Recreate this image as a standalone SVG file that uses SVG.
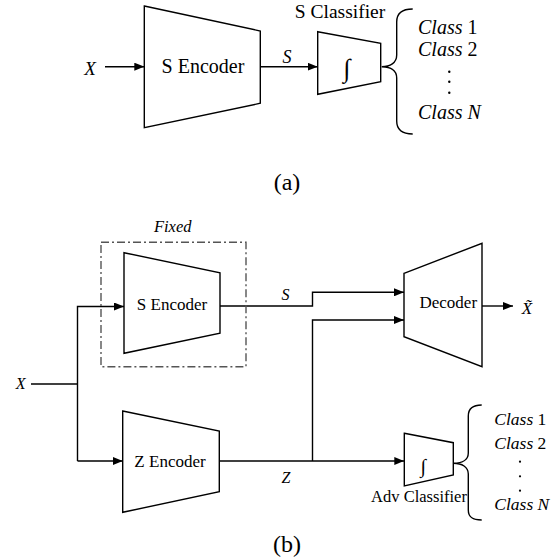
<svg xmlns="http://www.w3.org/2000/svg" width="551" height="560" viewBox="0 0 551 560">
<defs>
<marker id="ah" viewBox="0 0 10 8" refX="10" refY="4" markerWidth="10" markerHeight="8" markerUnits="userSpaceOnUse" orient="auto">
<path d="M0,0 L10,4 L0,8 Z" fill="#000"/>
</marker>
</defs>
<style>
.shape{fill:#fff;stroke:#000;stroke-width:1.4;stroke-linejoin:miter}
.line{fill:none;stroke:#000;stroke-width:1.4}
.arr{fill:none;stroke:#000;stroke-width:1.4;marker-end:url(#ah)}
.brace{fill:none;stroke:#000;stroke-width:1.4}
.box{fill:none;stroke:#555;stroke-width:1.4;stroke-dasharray:8 3 2 3}
.dot{fill:#000}
text{font-family:"Liberation Serif","DejaVu Serif",serif;fill:#000}
.it{font-style:italic}
.mid{text-anchor:middle}
</style>
<rect width="551" height="560" fill="#fff"/>

<g id="connectors">
<line class="arr" x1="105" y1="66.7" x2="144.3" y2="66.7"/>
<line class="arr" x1="260.3" y1="66.7" x2="317.7" y2="66.7"/>
<polyline class="line" points="31,384 77.5,384"/>
<polyline class="arr" points="77.5,461 77.5,306.5 124,306.5"/>
<polyline class="arr" points="77.5,461 122.7,461"/>
<polyline class="arr" points="220,306 312.5,306 312.5,292.3 404,292.3"/>
<polyline class="arr" points="312.5,461 312.5,320 404,320"/>
<line class="arr" x1="219.3" y1="461" x2="404.3" y2="461"/>
<line class="arr" x1="482" y1="306" x2="513" y2="306"/>
</g>

<g id="label-a">
<text class="it mid" x="90" y="75" font-size="19">X</text>
<text class="it mid" x="287" y="63" font-size="18">S</text>
</g>

<g id="s-encoder-a">
<polygon class="shape" points="144.3,6 260.3,31 260.3,103.3 144.3,127.7"/>
<text class="mid" x="203" y="73" font-size="20">S Encoder</text>
</g>

<g id="s-classifier">
<polygon class="shape" points="317.7,31.7 380.7,43.3 380.7,81.7 317.7,94.3"/>
<text class="mid" x="347" y="76.5" font-size="26">∫</text>
<text class="mid" x="340" y="18" font-size="19.5">S Classifier</text>
</g>

<g id="classes-a">
<path class="brace" d="M412.7,9 C402,9 396.7,13 396.7,22 L396.7,55 C396.7,63 390,66.7 381.7,66.7 C390,66.7 396.7,70 396.7,78 L396.7,121 C396.7,130 402,134 412.7,134"/>
<text x="418" y="33.5" font-size="20"><tspan class="it">Class</tspan> 1</text>
<text x="418" y="56" font-size="20"><tspan class="it">Class</tspan> 2</text>
<circle class="dot" cx="449.3" cy="71.7" r="1.2"/>
<circle class="dot" cx="449.3" cy="81.7" r="1.2"/>
<circle class="dot" cx="449.3" cy="92.7" r="1.2"/>
<text x="418" y="118.5" font-size="20"><tspan class="it">Class N</tspan></text>
</g>

<text class="mid" x="287" y="190" font-size="24">(a)</text>

<g id="fixed-box">
<rect class="box" x="101" y="242.3" width="145" height="124.4"/>
<text class="it mid" x="172.7" y="231.5" font-size="16.5">Fixed</text>
</g>

<g id="s-encoder-b">
<polygon class="shape" points="124,252.7 220,272.7 220,333.3 124,353.3"/>
<text class="mid" x="172" y="309.5" font-size="17">S Encoder</text>
</g>

<g id="z-encoder">
<polygon class="shape" points="122.7,411 219.3,431 219.3,491.7 122.7,512.3"/>
<text class="mid" x="170" y="467" font-size="17">Z Encoder</text>
</g>

<g id="decoder">
<polygon class="shape" points="404,273.3 482,243.3 482,366.7 404,336.7"/>
<text class="mid" x="448.3" y="308" font-size="17">Decoder</text>
</g>

<g id="adv-classifier">
<polygon class="shape" points="404.3,433.3 453.3,442.7 453.3,475 404.3,486"/>
<text class="mid" x="423.3" y="472.5" font-size="20">∫</text>
<text class="mid" x="419" y="501.5" font-size="16.5">Adv Classifier</text>
</g>

<g id="classes-b">
<path class="brace" d="M481.7,405 C472,405 468.3,409 468.3,416 L468.3,453 C468.3,460 462,463.3 453.3,463.3 C462,463.3 468.3,467 468.3,474 L468.3,510 C468.3,517 472,520 481.7,520"/>
<text x="494.3" y="425" font-size="17.5"><tspan class="it">Class</tspan> 1</text>
<text x="494.3" y="448.5" font-size="17.5"><tspan class="it">Class</tspan> 2</text>
<circle class="dot" cx="520" cy="461.7" r="1.1"/>
<circle class="dot" cx="520" cy="476.3" r="1.1"/>
<circle class="dot" cx="520" cy="490.7" r="1.1"/>
<text x="494.3" y="510" font-size="17.5"><tspan class="it">Class N</tspan></text>
</g>

<g id="labels-b">
<text class="it mid" x="20.7" y="389" font-size="16">X</text>
<text class="it mid" x="285.5" y="300" font-size="16">S</text>
<text class="it mid" x="286" y="483" font-size="16">Z</text>
<text class="it mid" x="527" y="314" font-size="17">X&#x303;</text>
</g>

<text class="mid" x="287" y="552" font-size="24">(b)</text>
</svg>
